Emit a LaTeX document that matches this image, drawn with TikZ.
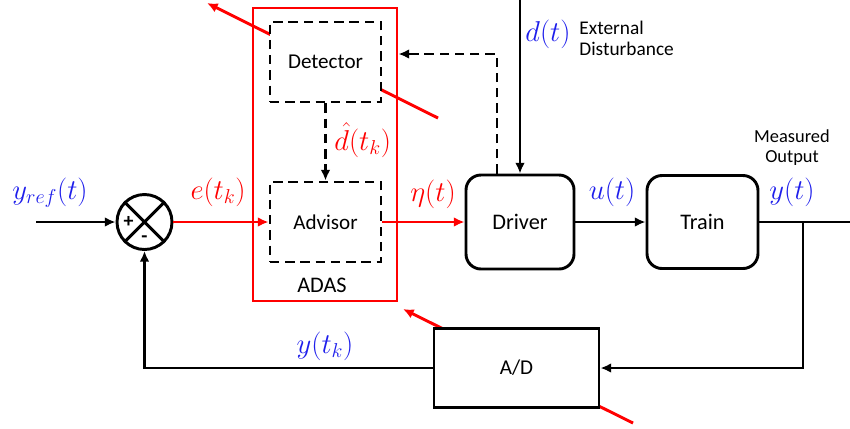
\documentclass[tikz,border=0pt]{standalone}
\usepackage{fix-cm}
\usepackage{fontspec}
\setmainfont{Carlito}
\usetikzlibrary{arrows.meta}

\definecolor{sigblue}{RGB}{30,30,235}
\definecolor{sigred}{RGB}{255,0,0}

\tikzset{
  sig/.style={line width=2.5pt, -{Latex[length=3.2mm,width=2.9mm]}},
  plain/.style={line width=2.5pt},
  redsig/.style={sig, draw=sigred, fill=sigred},
  dashsig/.style={sig, dash pattern=on 8pt off 5pt},
  block/.style={draw, line width=2.5pt, fill=white, rounded corners=4.5mm,
    font=\fontsize{19}{22}\selectfont},
  dashbox/.style={draw, line width=2.5pt, fill=white, dash pattern=on 8pt off 5pt,
    minimum width=33.3mm, minimum height=24mm, font=\fontsize{18}{22}\selectfont},
  adasbox/.style={draw=sigred, line width=2.5pt},
  sumnode/.style={draw, circle, line width=2.5pt, fill=white, minimum size=16.5mm, inner sep=0pt},
  bluelbl/.style={text=sigblue, inner sep=1pt, font=\fontsize{24.5}{27}\selectfont},
  redlbl/.style={text=sigred, inner sep=1pt, font=\fontsize{24.5}{27}\selectfont},
  note/.style={inner sep=1pt, font=\fontsize{16.5}{18}\selectfont}
}

\begin{document}
\begin{tikzpicture}[x=0.3mm, y=-0.3mm]
  \useasboundingbox (0,0) rectangle (850,428);

  % ADAS frame
  \node [adasbox, minimum width=43.2mm, minimum height=87.9mm] (adas) at (325,154.5) {};
  \node [font=\fontsize{19}{22}\selectfont] (adaslbl) at (322,285) {ADAS};

  % red adjust arrows, under the blocks
  \draw [redsig] (438,118) -- (207,3);
  \draw [redsig] (633,423) -- (403,309);

  % blocks
  \node [dashbox] (detector) at (325.5,62) {Detector};
  \node [dashbox] (advisor) at (325.5,222) {Advisor};
  \node [block, minimum width=32.4mm, minimum height=28.2mm] (driver) at (520,222) {Driver};
  \node [block, minimum width=33.3mm, minimum height=27.9mm] (train) at (702.5,222) {Train};
  \node [block, rounded corners=0pt, minimum width=49.5mm, minimum height=23.7mm,
    font=\fontsize{18}{20}\selectfont] (ad) at (516.5,368) {A/D};
  \node [sumnode] (sum) at (144.5,222) {};
  \draw [plain] (sum.north west) -- (sum.south east) (sum.north east) -- (sum.south west);
  \node [font=\fontsize{17}{18}\selectfont\bfseries] (plus) at ([xshift=-4.8mm]sum.center) {+};
  \node [font=\fontsize{17}{18}\selectfont\bfseries] (minus) at ([yshift=-5.1mm]sum.center) {-};

  % free ends
  \coordinate (yin) at (36,222);
  \coordinate (dtop) at (520,0);
  \coordinate (br) at (803,222);
  \coordinate (yout) at (850,222);
  \coordinate (dfb) at (adas.east |- 0,54);

  % signals
  \draw [sig] (yin) -- (sum.west);
  \draw [redsig] (sum.east) -- (advisor.west);
  \draw [dashsig] (detector.south) -- (advisor.north);
  \draw [redsig] (advisor.east) -- (driver.west);
  \draw [dashsig] ([xshift=-6.9mm]driver.north) |- (dfb);
  \draw [sig] (dtop) -- (driver.north);
  \draw [sig] (driver.east) -- (train.west);
  \draw [plain] (train.east) -- (yout);
  \draw [sig] (br) |- (ad.east);
  \draw [sig] (ad.west) -| (sum.south);

  % labels
  \node [bluelbl] (lyref) at (50,193) {$y_{ref}(t)$};
  \node [redlbl] (lerr) at (218,192) {$e(t_k)$};
  \node [redlbl, anchor=west] (ldhat) at (333,140) {$\hat{d}(t_k)$};
  \node [redlbl] (leta) at (433,194) {$\eta(t)$};
  \node [bluelbl] (lu) at (612,192) {$u(t)$};
  \node [bluelbl] (ly) at (792,192) {$y(t)$};
  \node [bluelbl] (lytk) at (325,346) {$y(t_k)$};
  \node [bluelbl] (ld) at (548,34) {$d(t)$};
  \node [note, align=left, anchor=west] (lext) at (578,38) {External\\Disturbance};
  \node [font=\fontsize{15.7}{17}\selectfont, align=center] (lmeas) at (792,148) {Measured\\Output};
\end{tikzpicture}
\end{document}
